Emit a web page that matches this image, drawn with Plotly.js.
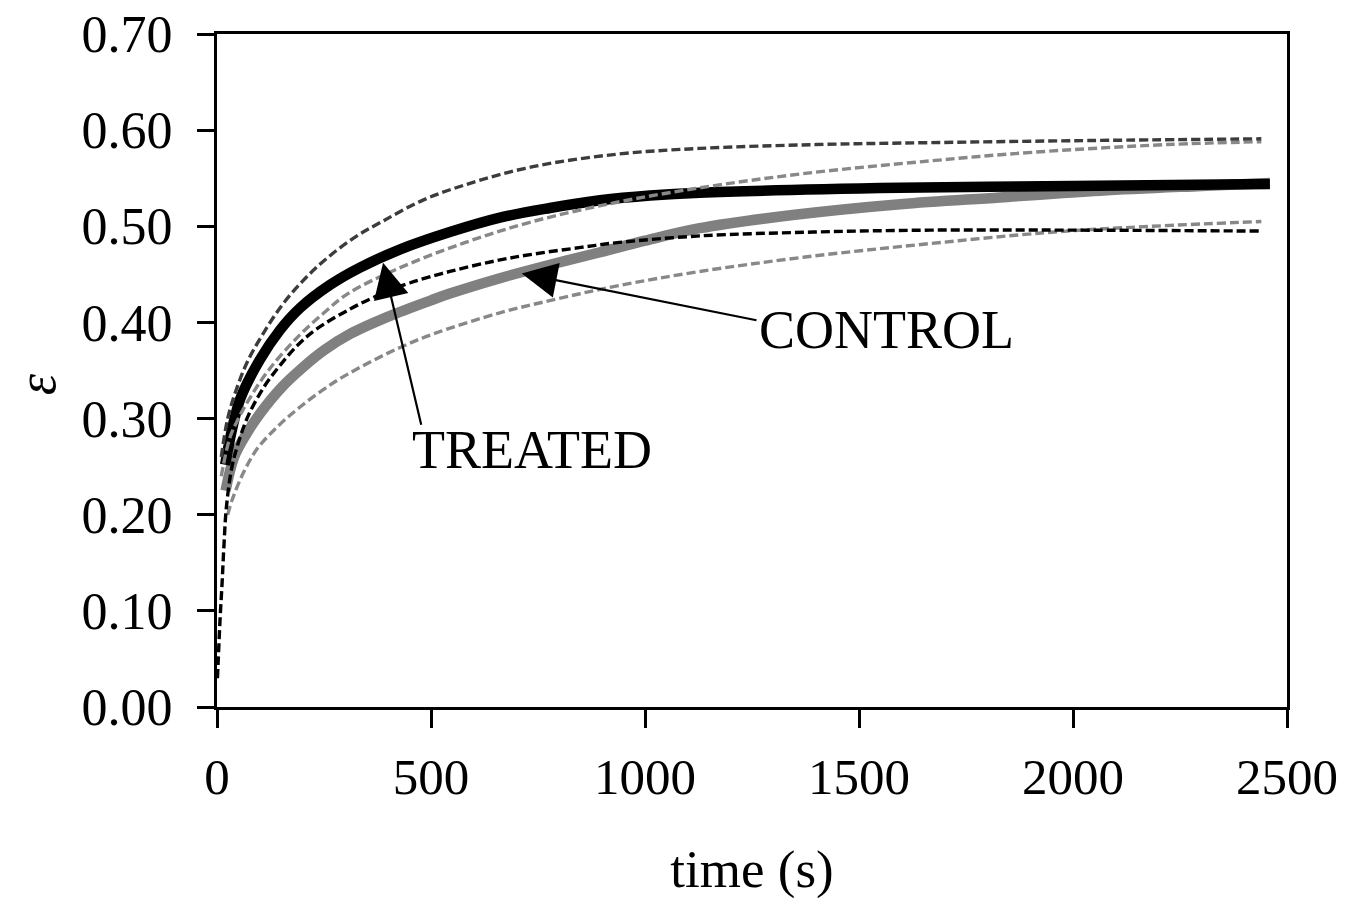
<!DOCTYPE html>
<html>
<head>
<meta charset="utf-8">
<script src="https://cdn.plot.ly/plotly-3.0.1.min.js"></script>
<style>html,body{margin:0;padding:0;background:#fff;}#chart{width:1358px;height:902px;}</style>
</head>
<body>
<div id="chart"></div>
<script>
// ---- data ----
const controlMeanT = [20, 40, 70, 100, 150, 200, 250, 311, 400, 500, 544, 661, 778, 895, 1000, 1128, 1350, 1596, 1829, 2063, 2300, 2460];
const controlMeanE = [0.225, 0.26, 0.285, 0.305, 0.332, 0.353, 0.371, 0.388, 0.406, 0.423, 0.43, 0.446, 0.46, 0.473, 0.485, 0.498, 0.512, 0.523, 0.530, 0.537, 0.542, 0.545];

const treatedMeanT = [19, 54, 100, 147, 194, 264, 334, 428, 544, 661, 778, 895, 1012, 1128, 1596, 2000, 2460];
const treatedMeanE = [0.252, 0.32, 0.361, 0.392, 0.415, 0.439, 0.457, 0.476, 0.494, 0.509, 0.519, 0.527, 0.532, 0.535, 0.540, 0.542, 0.544];

const treatedUpperT = [10, 25, 45, 72, 110, 152, 200, 252, 320, 386, 480, 579, 738, 935, 1128, 1400, 1666, 2000, 2440];
const treatedUpperE = [0.26, 0.30, 0.33, 0.36, 0.39, 0.418, 0.443, 0.465, 0.488, 0.505, 0.527, 0.543, 0.562, 0.575, 0.581, 0.585, 0.587, 0.589, 0.591];

const treatedLowerT = [1, 3, 7, 12, 16, 22, 35, 50, 72, 110, 152, 190, 229, 311, 386, 450, 544, 650, 738, 850, 935, 1128, 1393, 1666, 2000, 2440];
const treatedLowerE = [0.03, 0.05, 0.09, 0.13, 0.166, 0.208, 0.25, 0.275, 0.302, 0.333, 0.358, 0.377, 0.392, 0.414, 0.43, 0.441, 0.453, 0.464, 0.471, 0.478, 0.483, 0.490, 0.494, 0.496, 0.496, 0.495];

const controlUpperT = [10, 30, 50, 72, 120, 189, 250, 306, 423, 579, 738, 935, 1128, 1374, 1666, 1907, 2220, 2440];
const controlUpperE = [0.24, 0.28, 0.30, 0.318, 0.35, 0.385, 0.41, 0.43, 0.456, 0.483, 0.505, 0.525, 0.540, 0.555, 0.568, 0.577, 0.585, 0.588];

const controlLowerT = [25, 35, 61, 93, 140, 194, 271, 350, 428, 505, 661, 800, 935, 1128, 1374, 1666, 1986, 2440];
const controlLowerE = [0.20, 0.215, 0.243, 0.268, 0.291, 0.312, 0.337, 0.357, 0.374, 0.388, 0.41, 0.425, 0.438, 0.453, 0.468, 0.482, 0.495, 0.505];

const xTickVals = [0, 500, 1000, 1500, 2000, 2500];
const yTickVals = [0, 0.1, 0.2, 0.3, 0.4, 0.5, 0.6, 0.7];

const labelTreated = 'TREATED';
const labelControl = 'CONTROL';
// arrow tip / tail and label positions in data units
const treatedArrow = {tipT: 388, tipE: 0.462, tailT: 478, tailE: 0.292, textT: 735, textE: 0.267};
const controlArrow = {tipT: 712, tipE: 0.451, tailT: 1264, tailE: 0.402, textT: 1565, textE: 0.392};

// ---- drawing ----
const FONT = 'Liberation Serif, Times New Roman, serif';
const DASH = '9px,4px';

function line(t, e, color, width, dash) {
  return {x: t, y: e, type: 'scatter', mode: 'lines',
    line: {color: color, width: width, dash: dash || 'solid', shape: 'spline', smoothing: 1},
    hoverinfo: 'skip', showlegend: false};
}

const traces = [
  line(controlMeanT, controlMeanE, '#808080', 10.5),
  line(treatedMeanT, treatedMeanE, '#000000', 10.5),
  line(controlUpperT, controlUpperE, '#888888', 3.4, DASH),
  line(controlLowerT, controlLowerE, '#888888', 3.4, DASH),
  line(treatedUpperT, treatedUpperE, '#3c3c3c', 3.4, DASH),
  line(treatedLowerT, treatedLowerE, '#000000', 3.4, DASH)
];

function arrowAnn(a) {
  return {x: a.tipT, y: a.tipE, xref: 'x', yref: 'y', ax: a.tailT, ay: a.tailE, axref: 'x', ayref: 'y',
    text: '', showarrow: true, arrowhead: 2, arrowsize: 3.2, arrowwidth: 2.2, arrowcolor: '#000', standoff: 0, startstandoff: 0};
}
function textAnn(a, txt) {
  return {x: a.textT, y: a.textE, xref: 'x', yref: 'y', text: txt, showarrow: false,
    xanchor: 'center', yanchor: 'middle', font: {family: FONT, size: 54, color: '#000'}};
}

const layout = {
  width: 1358, height: 902,
  margin: {l: 217, r: 71, t: 34, b: 195, pad: 0},
  paper_bgcolor: '#ffffff', plot_bgcolor: '#ffffff',
  showlegend: false,
  hovermode: false,
  font: {family: FONT, color: '#000', size: 52},
  xaxis: {
    range: [0, 2500], tickvals: xTickVals, ticktext: xTickVals.map(String),
    showgrid: false, zeroline: false,
    showline: true, linecolor: '#000', linewidth: 3, mirror: true,
    ticks: 'outside', ticklen: 18, tickwidth: 3, tickcolor: '#000',
    tickfont: {family: FONT, size: 51, color: '#000'}, ticklabelstandoff: 5,
    title: {text: 'time (s)', font: {family: FONT, size: 53, color: '#000'}, standoff: 46}
  },
  yaxis: {
    range: [0, 0.7], tickvals: yTickVals, ticktext: yTickVals.map(v => v.toFixed(2)),
    showgrid: false, zeroline: false,
    showline: true, linecolor: '#000', linewidth: 3, mirror: true,
    ticks: 'outside', ticklen: 17, tickwidth: 3, tickcolor: '#000',
    tickfont: {family: FONT, size: 52, color: '#000'}, ticklabelstandoff: 14
  },
  annotations: [
    arrowAnn(treatedArrow), arrowAnn(controlArrow),
    textAnn(treatedArrow, labelTreated), textAnn(controlArrow, labelControl),
    {xref: 'paper', yref: 'paper', x: -0.168, y: 0.48, text: '<i>ε</i>', textangle: -90, showarrow: false,
     xanchor: 'center', yanchor: 'middle', font: {family: FONT, size: 54, color: '#000'}}
  ]
};

Plotly.newPlot('chart', traces, layout, {staticPlot: true, displayModeBar: false});
</script>
</body>
</html>
